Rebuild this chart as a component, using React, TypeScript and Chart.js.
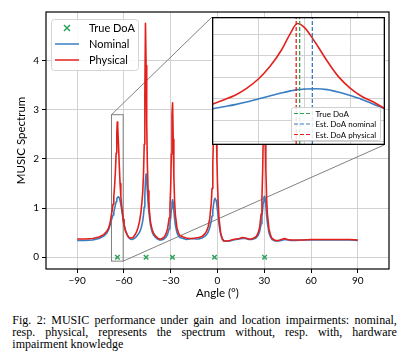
import React, { useEffect, useRef } from 'react';
import { Chart, registerables } from 'chart.js';

Chart.register(...registerables);

// ---- data ----
const ANGLES = [
  -90, -85, -80, -76, -73, -71, -70, -69,
  -68, -67.5, -67, -66.5, -66, -65.5, -65, -64.6, -64.3, -64, -63.5, -63, -62.5, -62, -61.5, -61, -60.5,
  -60, -59, -58, -57, -56, -55, -54, -53, -52, -51, -50, -49,
  -48, -47.5, -47, -46.6, -46.2, -45.8, -45.4, -45, -44.5, -44, -43, -42,
  -41, -40, -38, -37, -36, -35, -34, -33, -32, -31, -30.5, -30,
  -29.6, -29.2, -28.8, -28.4, -28, -27.5, -27, -26, -25, -24, -22, -20,
  -18, -16, -14, -12, -10, -8, -7, -6, -5, -4, -3.5, -3,
  -2.5, -2, -1.6, -1.2, -0.8, -0.4, 0, 0.5, 1, 2, 3, 4,
  6, 8, 10, 12, 14, 16, 18, 20, 22, 24, 25, 26,
  27, 28, 28.5, 29, 29.4, 29.8, 30.2, 30.6, 31, 31.5, 32, 33,
  34, 35, 37, 39, 41, 43, 45, 47, 50, 55, 60, 65, 70, 75, 80, 85, 90,
];

const PHYSICAL = [
  0.37, 0.37, 0.38, 0.41, 0.46, 0.53, 0.58, 0.68,
  0.87, 0.97, 1.08, 1.24, 1.45, 1.74, 2.12, 2.52, 2.75, 2.66, 2.29, 1.87, 1.50, 1.24, 1.05, 0.92, 0.77,
  0.66, 0.53, 0.46, 0.41, 0.39, 0.39, 0.41, 0.45, 0.51, 0.60, 0.73, 0.94,
  1.30, 1.65, 2.30, 3.30, 4.76, 3.90, 2.70, 1.90, 1.35, 1.05, 0.72, 0.57,
  0.49, 0.44, 0.38, 0.37, 0.37, 0.39, 0.42, 0.48, 0.58, 0.80, 1.02, 1.45,
  2.10, 2.90, 3.14, 2.40, 1.65, 1.12, 0.85, 0.60, 0.49, 0.44, 0.41, 0.39,
  0.38, 0.38, 0.39, 0.40, 0.42, 0.48, 0.53, 0.62, 0.78, 1.10, 1.40, 1.90,
  2.60, 3.30, 3.60, 3.40, 2.70, 2.00, 1.50, 1.05, 0.78, 0.50, 0.38, 0.33,
  0.33, 0.34, 0.36, 0.37, 0.38, 0.40, 0.39, 0.37, 0.37, 0.40, 0.43, 0.49,
  0.60, 0.88, 1.20, 1.80, 2.60, 3.25, 3.20, 2.50, 1.80, 1.20, 0.88, 0.58,
  0.45, 0.38, 0.34, 0.34, 0.36, 0.38, 0.36, 0.35, 0.35, 0.35, 0.36, 0.36, 0.36, 0.36, 0.36, 0.36, 0.35,
];

const NOMINAL = [
  0.34, 0.34, 0.35, 0.38, 0.43, 0.49, 0.55, 0.64,
  0.76, 0.81, 0.86, 0.92, 0.99, 1.06, 1.13, 1.18, 1.21, 1.22, 1.23, 1.21, 1.15, 1.07, 0.98, 0.87, 0.76,
  0.67, 0.55, 0.46, 0.40, 0.37, 0.36, 0.37, 0.39, 0.42, 0.46, 0.51, 0.59,
  0.73, 0.85, 1.02, 1.28, 1.55, 1.69, 1.56, 1.36, 1.10, 0.91, 0.66, 0.52,
  0.45, 0.41, 0.36, 0.35, 0.35, 0.36, 0.38, 0.41, 0.47, 0.58, 0.68, 0.82,
  0.98, 1.12, 1.17, 1.10, 0.95, 0.78, 0.65, 0.50, 0.43, 0.40, 0.38, 0.36,
  0.37, 0.38, 0.37, 0.37, 0.39, 0.43, 0.46, 0.51, 0.60, 0.74, 0.84, 0.96,
  1.08, 1.17, 1.20, 1.20, 1.15, 1.06, 0.95, 0.80, 0.66, 0.47, 0.37, 0.33,
  0.33, 0.33, 0.35, 0.36, 0.37, 0.38, 0.38, 0.36, 0.36, 0.38, 0.40, 0.44,
  0.52, 0.68, 0.82, 1.00, 1.13, 1.22, 1.24, 1.18, 1.05, 0.85, 0.70, 0.50,
  0.41, 0.36, 0.33, 0.33, 0.34, 0.36, 0.35, 0.34, 0.34, 0.35, 0.35, 0.35, 0.35, 0.35, 0.35, 0.35, 0.34,
];

const TRUE_DOA = [-64.2, -45.8, -28.9, -1.9, 30.2];
const EST_DOA_NOMINAL = -63.65;
const EST_DOA_PHYSICAL = -64.35;

const X_TICKS = [-90, -60, -30, 0, 30, 60, 90];
const Y_TICKS = [0, 1, 2, 3, 4];
const X_RANGE = [-110, 110];
const Y_RANGE = [-0.24, 4.99];
const INSET_X_RANGE = [-68, -60.5];
const INSET_Y_RANGE = [-0.08, 2.9];
const INSET_X_GRID = [-66, -64, -62];
const INSET_Y_GRID = [0, 0.5, 1, 1.5, 2, 2.5];

const LEGEND_LABELS = ['True DoA', 'Nominal', 'Physical'];
const INSET_LEGEND_LABELS = ['True DoA', 'Est. DoA nominal', 'Est. DoA physical'];
const X_LABEL = 'Angle (°)';
const Y_LABEL = 'MUSIC Spectrum';
const CAPTION_LINES = [
  'Fig. 2: MUSIC performance under gain and location impairments: nominal,',
  'resp. physical, represents the spectrum without, resp. with, hardware',
  'impairment knowledge',
];

// ---- styles ----
const FONT = 'Lato';
const RED = '#e3211c';
const BLUE = '#3a7ec2';
const GREEN = '#2ca25a';
const GRID = '#c6c6c6';
const CONNECT = '#808080';

const MAIN_W = 408;
const MAIN_H = 300;
const INSET_BOX = { left: 212, top: 17, width: 173, height: 128 };

const fmtTick = (v: number) => (v < 0 ? '\u2212' + Math.abs(v) : String(v));

function roundRectPath(ctx: CanvasRenderingContext2D, x: number, y: number, w: number, h: number, r: number) {
  ctx.beginPath();
  ctx.moveTo(x + r, y);
  ctx.lineTo(x + w - r, y);
  ctx.arcTo(x + w, y, x + w, y + r, r);
  ctx.lineTo(x + w, y + h - r);
  ctx.arcTo(x + w, y + h, x + w - r, y + h, r);
  ctx.lineTo(x + r, y + h);
  ctx.arcTo(x, y + h, x, y + h - r, r);
  ctx.lineTo(x, y + r);
  ctx.arcTo(x, y, x + r, y, r);
  ctx.closePath();
}

function drawCrossRot(ctx: CanvasRenderingContext2D, x: number, y: number, s: number, color: string) {
  ctx.save();
  ctx.strokeStyle = color;
  ctx.lineWidth = 1.5;
  ctx.beginPath();
  ctx.moveTo(x - s, y - s);
  ctx.lineTo(x + s, y + s);
  ctx.moveTo(x - s, y + s);
  ctx.lineTo(x + s, y - s);
  ctx.stroke();
  ctx.restore();
}

const mainFramePlugin = {
  id: 'mainFrame',
  beforeDatasetsDraw(chart: any) {
    const { ctx, scales } = chart;
    const x0 = scales.x.getPixelForValue(INSET_X_RANGE[0]);
    const x1 = scales.x.getPixelForValue(INSET_X_RANGE[1]);
    const y0 = scales.y.getPixelForValue(INSET_Y_RANGE[1]);
    const y1 = scales.y.getPixelForValue(INSET_Y_RANGE[0]);
    ctx.save();
    ctx.strokeStyle = CONNECT;
    ctx.lineWidth = 1;
    ctx.strokeRect(x0, y0, x1 - x0, y1 - y0);
    ctx.beginPath();
    ctx.moveTo(x0, y0);
    ctx.lineTo(INSET_BOX.left, INSET_BOX.top);
    ctx.moveTo(x1, y1);
    ctx.lineTo(INSET_BOX.left + INSET_BOX.width - 1, INSET_BOX.top + INSET_BOX.height);
    ctx.stroke();
    ctx.restore();
  },
  afterDraw(chart: any) {
    const { ctx, chartArea: ca } = chart;
    ctx.save();
    ctx.strokeStyle = '#000';
    ctx.lineWidth = 1.2;
    ctx.strokeRect(ca.left, ca.top, ca.right - ca.left, ca.bottom - ca.top);
    const bx = 51, by = 19, bw = 87, bh = 51;
    roundRectPath(ctx, bx + 0.5, by + 0.5, bw, bh, 3);
    ctx.fillStyle = 'rgba(255,255,255,0.85)';
    ctx.fill();
    ctx.strokeStyle = '#d4d4d4';
    ctx.lineWidth = 1;
    ctx.stroke();
    const rows = [28, 44, 60];
    drawCrossRot(ctx, 67, rows[0], 3, GREEN);
    ctx.lineWidth = 1.5;
    ctx.strokeStyle = BLUE;
    ctx.beginPath(); ctx.moveTo(55, rows[1]); ctx.lineTo(79, rows[1]); ctx.stroke();
    ctx.strokeStyle = RED;
    ctx.beginPath(); ctx.moveTo(55, rows[2]); ctx.lineTo(79, rows[2]); ctx.stroke();
    ctx.fillStyle = '#000';
    ctx.font = `11px ${FONT}`;
    ctx.textBaseline = 'middle';
    ctx.textAlign = 'left';
    LEGEND_LABELS.forEach((t, i) => ctx.fillText(t, 89, rows[i] + 0.5));
    ctx.restore();
  },
};

const insetPlugin = {
  id: 'insetDecor',
  afterDraw(chart: any) {
    const { ctx } = chart;
    const w = chart.width, h = chart.height;
    ctx.save();
    const bx = 79.5, by = 90.5, bw = 89, bh = 33;
    roundRectPath(ctx, bx, by, bw, bh, 2);
    ctx.fillStyle = 'rgba(255,255,255,0.85)';
    ctx.fill();
    ctx.strokeStyle = '#d0d0d0';
    ctx.lineWidth = 1;
    ctx.stroke();
    const rows = [96.5, 107, 117.5];
    const colors = [GREEN, BLUE, RED];
    ctx.lineWidth = 1.2;
    ctx.setLineDash([4, 2]);
    rows.forEach((ry, i) => {
      ctx.strokeStyle = colors[i];
      ctx.beginPath(); ctx.moveTo(82, ry); ctx.lineTo(98, ry); ctx.stroke();
    });
    ctx.setLineDash([]);
    ctx.fillStyle = '#000';
    ctx.font = `8px ${FONT}`;
    ctx.textBaseline = 'middle';
    INSET_LEGEND_LABELS.forEach((t, i) => ctx.fillText(t, 103.5, rows[i] + 0.5));
    ctx.strokeStyle = '#000';
    ctx.lineWidth = 1.3;
    ctx.strokeRect(0.65, 0.65, w - 1.3, h - 1.3);
    ctx.restore();
  },
};

function lineData(ys: number[]) {
  return ANGLES.map((a, i) => ({ x: a, y: ys[i] }));
}

function vLine(x: number) {
  return [{ x, y: -10 }, { x, y: 10 }];
}

export default function App() {
  const mainRef = useRef<HTMLCanvasElement>(null);
  const insetRef = useRef<HTMLCanvasElement>(null);

  useEffect(() => {
    const main = new Chart(mainRef.current!, {
      type: 'scatter',
      data: {
        datasets: [
          {
            label: LEGEND_LABELS[0],
            data: TRUE_DOA.map((a) => ({ x: a, y: 0 })),
            showLine: false,
            pointStyle: 'crossRot',
            pointRadius: 3.2,
            borderColor: GREEN,
            backgroundColor: GREEN,
            pointBorderWidth: 1.5,
            order: 0,
          } as any,
          {
            label: LEGEND_LABELS[2],
            data: lineData(PHYSICAL),
            showLine: true,
            borderColor: RED,
            backgroundColor: RED,
            borderWidth: 1.6,
            borderJoinStyle: 'round',
            pointRadius: 0,
            order: 1,
          },
          {
            label: LEGEND_LABELS[1],
            data: lineData(NOMINAL),
            showLine: true,
            borderColor: BLUE,
            backgroundColor: BLUE,
            borderWidth: 1.6,
            borderJoinStyle: 'round',
            pointRadius: 0,
            order: 2,
          },
        ],
      },
      options: {
        responsive: false,
        animation: false,
        events: [],
        layout: { padding: { left: 0, top: 12, right: 19, bottom: 0 } },
        plugins: { legend: { display: false }, tooltip: { enabled: false } },
        scales: {
          x: {
            type: 'linear',
            min: X_RANGE[0],
            max: X_RANGE[1],
            afterBuildTicks: (s: any) => { s.ticks = X_TICKS.map((v) => ({ value: v })); },
            afterFit: (s: any) => { s.height = 31; },
            ticks: {
              autoSkip: false,
              maxRotation: 0,
              padding: 1.5,
              color: '#000',
              font: { family: FONT, size: 10 },
              callback: (v: any) => fmtTick(Number(v)),
            },
            grid: { color: GRID, lineWidth: 0.8, tickColor: '#000', tickLength: 4, tickWidth: 1 },
            border: { display: false },
            title: {
              display: true,
              text: X_LABEL,
              color: '#000',
              font: { family: FONT, size: 11.5 },
              padding: { top: 0, bottom: 0 },
            },
          },
          y: {
            type: 'linear',
            min: Y_RANGE[0],
            max: Y_RANGE[1],
            afterBuildTicks: (s: any) => { s.ticks = Y_TICKS.map((v) => ({ value: v })); },
            afterFit: (s: any) => { s.width = 46; },
            ticks: {
              autoSkip: false,
              padding: 3,
              color: '#000',
              font: { family: FONT, size: 10 },
              callback: (v: any) => fmtTick(Number(v)),
            },
            grid: { color: GRID, lineWidth: 0.8, tickColor: '#000', tickLength: 4, tickWidth: 1 },
            border: { display: false },
            title: {
              display: true,
              text: Y_LABEL,
              color: '#000',
              font: { family: FONT, size: 11.5 },
              padding: { top: 14, bottom: 0 },
            },
          },
        },
      },
      plugins: [mainFramePlugin],
    } as any);

    const inset = new Chart(insetRef.current!, {
      type: 'scatter',
      data: {
        datasets: [
          {
            label: INSET_LEGEND_LABELS[2],
            data: vLine(EST_DOA_PHYSICAL),
            showLine: true,
            borderColor: RED,
            borderWidth: 1.3,
            borderDash: [4, 2],
            pointRadius: 0,
            order: 0,
          },
          {
            label: INSET_LEGEND_LABELS[0],
            data: vLine(TRUE_DOA[0]),
            showLine: true,
            borderColor: GREEN,
            borderWidth: 1.3,
            borderDash: [4, 2],
            pointRadius: 0,
            order: 1,
          },
          {
            label: INSET_LEGEND_LABELS[1],
            data: vLine(EST_DOA_NOMINAL),
            showLine: true,
            borderColor: BLUE,
            borderWidth: 1.3,
            borderDash: [4, 2],
            pointRadius: 0,
            order: 2,
          },
          {
            label: LEGEND_LABELS[2],
            data: lineData(PHYSICAL),
            showLine: true,
            borderColor: RED,
            borderWidth: 1.6,
            cubicInterpolationMode: 'monotone',
            pointRadius: 0,
            order: 3,
          },
          {
            label: LEGEND_LABELS[1],
            data: lineData(NOMINAL),
            showLine: true,
            borderColor: BLUE,
            borderWidth: 1.6,
            cubicInterpolationMode: 'monotone',
            pointRadius: 0,
            order: 4,
          },
        ],
      },
      options: {
        responsive: false,
        animation: false,
        events: [],
        layout: { padding: 0 },
        plugins: { legend: { display: false }, tooltip: { enabled: false } },
        scales: {
          x: {
            type: 'linear',
            min: INSET_X_RANGE[0],
            max: INSET_X_RANGE[1],
            afterBuildTicks: (s: any) => { s.ticks = INSET_X_GRID.map((v) => ({ value: v })); },
            afterFit: (s: any) => { s.height = 0; },
            ticks: { display: false },
            grid: { color: GRID, lineWidth: 0.8, drawTicks: false },
            border: { display: false },
          },
          y: {
            type: 'linear',
            min: INSET_Y_RANGE[0],
            max: INSET_Y_RANGE[1],
            afterBuildTicks: (s: any) => { s.ticks = INSET_Y_GRID.map((v) => ({ value: v })); },
            afterFit: (s: any) => { s.width = 0; },
            ticks: { display: false },
            grid: { color: GRID, lineWidth: 0.8, drawTicks: false },
            border: { display: false },
          },
        },
      },
      plugins: [insetPlugin],
    } as any);

    return () => {
      main.destroy();
      inset.destroy();
    };
  }, []);

  return (
    <div style={{ position: 'absolute', left: 0, top: 0, width: 408, height: 363, background: '#fff' }}>
      <canvas
        ref={mainRef}
        width={MAIN_W}
        height={MAIN_H}
        style={{ position: 'absolute', left: 0, top: 0, width: MAIN_W, height: MAIN_H }}
      />
      <canvas
        ref={insetRef}
        width={INSET_BOX.width}
        height={INSET_BOX.height}
        style={{
          position: 'absolute',
          left: INSET_BOX.left,
          top: INSET_BOX.top,
          width: INSET_BOX.width,
          height: INSET_BOX.height,
          background: '#fff',
        }}
      />
      <div
        style={{
          position: 'absolute',
          left: 12.3,
          top: 315.2,
          width: 384.5,
          fontFamily: '"Liberation Serif", serif',
          fontSize: 12,
          lineHeight: '11.7px',
          color: '#000',
        }}
      >
        {CAPTION_LINES.map((line, i) => (
          <div
            key={i}
            style={{
              textAlign: i < CAPTION_LINES.length - 1 ? 'justify' : 'left',
              textAlignLast: i < CAPTION_LINES.length - 1 ? 'justify' : 'left',
              whiteSpace: 'nowrap',
            } as any}
          >
            {line}
          </div>
        ))}
      </div>
    </div>
  );
}
